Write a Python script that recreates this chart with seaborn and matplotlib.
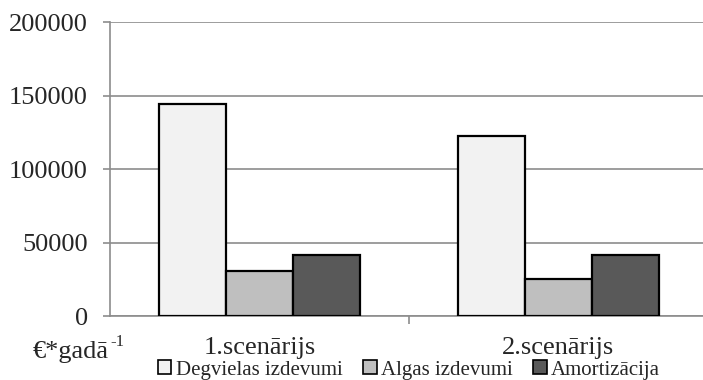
import matplotlib
matplotlib.use("Agg")
import matplotlib.pyplot as plt
from matplotlib.patches import Patch
from matplotlib.ticker import FixedLocator
import seaborn as sns
import pandas as pd

# Annual costs per scenario (EUR per year)
scenarios = ["1.scenārijs", "2.scenārijs"]
cost_types = ["Degvielas izdevumi", "Algas izdevumi", "Amortizācija"]
fuel = [144500, 122500]
wages = [30500, 25000]
depreciation = [41500, 41500]
y_ticks = [0, 50000, 100000, 150000, 200000]
unit_base = "€*gadā"
unit_exp = "-1"

colors = ["#F2F2F2", "#BFBFBF", "#595959"]
grid_color = "#8C8C8C"

df = pd.DataFrame({
    "scenario": scenarios * 3,
    "type": [cost_types[0]] * 2 + [cost_types[1]] * 2 + [cost_types[2]] * 2,
    "value": fuel + wages + depreciation,
})

sns.set_theme(style="white")
plt.rcParams["font.family"] = ["Liberation Serif", "DejaVu Serif"]

fig = plt.figure(figsize=(7.03, 3.80), dpi=100)
ax = fig.add_axes([0.1565, 0.1684, 0.8506, 0.7737])

sns.barplot(data=df, x="scenario", y="value", hue="type",
            order=scenarios, hue_order=cost_types, palette=colors,
            width=0.67, edgecolor="black", linewidth=1.6,
            saturation=1, ax=ax, legend=False, zorder=3)

ax.set_xlim(-0.5, 1.5)
ax.set_ylim(0, 200000)
ax.set_yticks(y_ticks)
ax.set_yticklabels([str(v) for v in y_ticks], fontsize=19)
ax.yaxis.grid(True, color=grid_color, linewidth=1.2, zorder=0)
ax.set_axisbelow(True)

for side in ["top", "right"]:
    ax.spines[side].set_visible(False)
for side in ["left", "bottom"]:
    ax.spines[side].set_color(grid_color)
    ax.spines[side].set_linewidth(1.2)

ax.tick_params(axis="y", which="major", direction="out", length=5,
               width=1.2, color=grid_color, pad=11, left=True)
ax.tick_params(axis="x", which="major", length=0, pad=15, labelsize=19)
ax.xaxis.set_minor_locator(FixedLocator([0.5]))
ax.tick_params(axis="x", which="minor", direction="out", length=6,
               width=1.2, color=grid_color, bottom=True)
ax.set_xlabel("")
ax.set_ylabel("")

# unit label at the bottom-left corner, with a small raised exponent
fig.text(33 / 703, 1 - 352 / 380, unit_base, fontsize=19,
         ha="left", va="center")
fig.text(110 / 703, 1 - 342 / 380, unit_exp, fontsize=12,
         ha="left", va="center")

handles = [Patch(facecolor=c, edgecolor="black", linewidth=1.2) for c in colors]
ax.legend(handles, cost_types, loc="center", bbox_to_anchor=(0.5, -0.184),
          ncol=3, frameon=False, fontsize=15, handlelength=0.65,
          handleheight=0.65, handletextpad=0.2, columnspacing=1.0,
          borderpad=0, borderaxespad=0)

fig.savefig("out.png", dpi=100)
